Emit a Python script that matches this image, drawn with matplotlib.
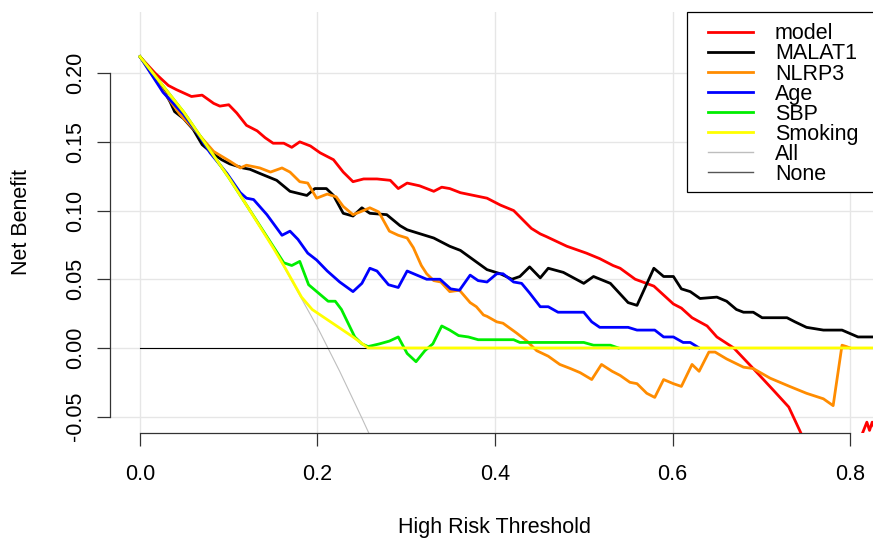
import matplotlib
matplotlib.use("Agg")
import matplotlib.pyplot as plt
from matplotlib.lines import Line2D
from matplotlib.patches import Rectangle

plt.rcParams['font.family'] = ['Liberation Sans', 'DejaVu Sans']

# ---------------- data ----------------
model_t = [0, 0.017, 0.032, 0.041, 0.058, 0.070, 0.083, 0.090, 0.100, 0.109, 0.120, 0.132, 0.141, 0.150,
           0.162, 0.171, 0.180, 0.192, 0.203, 0.218, 0.229, 0.240, 0.252, 0.267, 0.282, 0.291, 0.301,
           0.315, 0.331, 0.340, 0.349, 0.361, 0.376, 0.391, 0.406, 0.421, 0.441, 0.451, 0.458, 0.481,
           0.503, 0.518, 0.533, 0.541, 0.558, 0.579, 0.601, 0.610, 0.622, 0.639, 0.650, 0.669, 0.691,
           0.714, 0.731, 0.744, 0.760, 0.800, 0.819, 0.822, 0.825, 0.830]
model_v = [0.212, 0.200, 0.191, 0.188, 0.183, 0.184, 0.178, 0.176, 0.177, 0.171, 0.162, 0.158, 0.153, 0.149,
           0.149, 0.146, 0.150, 0.147, 0.142, 0.137, 0.128, 0.121, 0.123, 0.123, 0.122, 0.116, 0.120,
           0.118, 0.114, 0.117, 0.116, 0.113, 0.111, 0.109, 0.104, 0.100, 0.087, 0.083, 0.081, 0.074,
           0.069, 0.065, 0.060, 0.058, 0.050, 0.045, 0.032, 0.029, 0.022, 0.016, 0.008, 0.000, -0.015,
           -0.031, -0.043, -0.061, -0.085, -0.085, -0.054, -0.060, -0.054, -0.062]

malat1_t = [0, 0.020, 0.034, 0.039, 0.049, 0.060, 0.070, 0.079, 0.092, 0.101, 0.116, 0.124, 0.135, 0.154,
            0.169, 0.188, 0.197, 0.210, 0.218, 0.229, 0.240, 0.250, 0.259, 0.278, 0.293, 0.301, 0.331,
            0.349, 0.361, 0.376, 0.391, 0.406, 0.419, 0.428, 0.439, 0.451, 0.460, 0.477, 0.500, 0.511,
            0.530, 0.550, 0.560, 0.579, 0.590, 0.601, 0.610, 0.620, 0.631, 0.650, 0.661, 0.672, 0.680,
            0.691, 0.701, 0.729, 0.738, 0.751, 0.770, 0.791, 0.809, 0.850]
malat1_v = [0.212, 0.195, 0.179, 0.172, 0.167, 0.159, 0.148, 0.143, 0.137, 0.134, 0.131, 0.130, 0.127, 0.122,
            0.114, 0.111, 0.116, 0.116, 0.111, 0.098, 0.096, 0.102, 0.098, 0.097, 0.089, 0.086, 0.080,
            0.074, 0.071, 0.064, 0.057, 0.054, 0.050, 0.052, 0.059, 0.051, 0.058, 0.055, 0.047, 0.052,
            0.047, 0.033, 0.031, 0.058, 0.052, 0.052, 0.043, 0.041, 0.036, 0.037, 0.034, 0.028, 0.026,
            0.026, 0.022, 0.022, 0.019, 0.015, 0.013, 0.013, 0.008, 0.008]

nlrp3_t = [0, 0.026, 0.045, 0.064, 0.083, 0.101, 0.113, 0.120, 0.135, 0.147, 0.160, 0.169, 0.180, 0.189,
           0.199, 0.211, 0.221, 0.229, 0.240, 0.248, 0.259, 0.269, 0.281, 0.291, 0.301, 0.308, 0.317,
           0.323, 0.331, 0.339, 0.349, 0.360, 0.372, 0.379, 0.387, 0.391, 0.402, 0.409, 0.424, 0.436,
           0.447, 0.460, 0.473, 0.485, 0.496, 0.509, 0.520, 0.532, 0.541, 0.552, 0.560, 0.571, 0.580,
           0.590, 0.601, 0.610, 0.622, 0.630, 0.641, 0.648, 0.661, 0.680, 0.691, 0.710, 0.721, 0.732,
           0.751, 0.770, 0.781, 0.791, 0.796, 0.800]
nlrp3_v = [0.212, 0.187, 0.170, 0.157, 0.143, 0.136, 0.131, 0.133, 0.131, 0.128, 0.131, 0.128, 0.121, 0.120,
           0.109, 0.112, 0.110, 0.103, 0.097, 0.099, 0.102, 0.099, 0.085, 0.082, 0.080, 0.073, 0.060,
           0.054, 0.049, 0.048, 0.041, 0.042, 0.033, 0.030, 0.024, 0.023, 0.019, 0.018, 0.011, 0.005,
           -0.002, -0.006, -0.012, -0.015, -0.018, -0.023, -0.012, -0.017, -0.020, -0.025, -0.026, -0.033, -0.036,
           -0.023, -0.026, -0.028, -0.012, -0.017, -0.003, -0.003, -0.008, -0.014, -0.015, -0.022, -0.025, -0.028,
           -0.033, -0.037, -0.042, 0.002, 0.001, 0.000]

age_t = [0, 0.026, 0.049, 0.064, 0.079, 0.098, 0.113, 0.120, 0.128, 0.143, 0.160, 0.169, 0.178, 0.189,
         0.199, 0.211, 0.225, 0.240, 0.250, 0.259, 0.267, 0.280, 0.291, 0.301, 0.312, 0.323, 0.338,
         0.350, 0.360, 0.372, 0.381, 0.391, 0.402, 0.409, 0.421, 0.430, 0.439, 0.451, 0.460, 0.471,
         0.500, 0.509, 0.518, 0.550, 0.560, 0.580, 0.590, 0.601, 0.612, 0.620, 0.630]
age_v = [0.212, 0.186, 0.170, 0.157, 0.142, 0.127, 0.113, 0.109, 0.108, 0.097, 0.082, 0.085, 0.079, 0.069,
         0.064, 0.056, 0.048, 0.041, 0.047, 0.058, 0.056, 0.046, 0.044, 0.056, 0.053, 0.050, 0.050,
         0.043, 0.042, 0.053, 0.049, 0.048, 0.054, 0.054, 0.048, 0.047, 0.040, 0.030, 0.030, 0.026,
         0.026, 0.019, 0.015, 0.015, 0.013, 0.013, 0.008, 0.008, 0.004, 0.004, 0.000]

sbp_t = [0, 0.050, 0.100, 0.130, 0.162, 0.171, 0.180, 0.190, 0.201, 0.212, 0.220, 0.227, 0.242, 0.250,
         0.257, 0.270, 0.281, 0.291, 0.301, 0.311, 0.321, 0.330, 0.340, 0.349, 0.359, 0.370, 0.381,
         0.421, 0.428, 0.500, 0.511, 0.530, 0.539]
sbp_v = [0.212, 0.171, 0.124, 0.094, 0.062, 0.060, 0.063, 0.046, 0.040, 0.034, 0.034, 0.028, 0.008, 0.003,
         0.001, 0.003, 0.005, 0.008, -0.004, -0.010, -0.002, 0.003, 0.016, 0.013, 0.009, 0.008, 0.006,
         0.006, 0.004, 0.004, 0.002, 0.002, 0.000]

smoking_t = [0, 0.050, 0.100, 0.118, 0.150, 0.162, 0.182, 0.194, 0.240, 0.257, 0.850]
smoking_v = [0.212, 0.171, 0.124, 0.106, 0.073, 0.060, 0.037, 0.028, 0.008, 0.000, 0.000]

all_t = [0, 0.050, 0.100, 0.150, 0.200, 0.225, 0.250, 0.260]
all_v = [0.212, 0.171, 0.124, 0.073, 0.015, -0.017, -0.051, -0.065]

none_t = [0, 0.850]
none_v = [0, 0]

labels = ["model", "MALAT1", "NLRP3", "Age", "SBP", "Smoking", "All", "None"]
colors = ["#FF0000", "#000000", "#FF8C00", "#0000FF", "#00EE00", "#FFFF00", "#BEBEBE", "#000000"]

x_ticks = [0.0, 0.2, 0.4, 0.6, 0.8]
x_tick_labels = ["0.0", "0.2", "0.4", "0.6", "0.8"]
y_ticks = [-0.05, 0.00, 0.05, 0.10, 0.15, 0.20]
y_tick_labels = ["-0.05", "0.00", "0.05", "0.10", "0.15", "0.20"]

# ---------------- figure ----------------
W, H = 873, 538
fig = plt.figure(figsize=(W / 100, H / 100), dpi=100)
L, R, T, B = 110, 880, 12, 433
ax = fig.add_axes([L / W, 1 - B / H, (R - L) / W, (B - T) / H])
ax.set_xlim(-0.0338, 0.8338)
ax.set_ylim(-0.0619, 0.2445)
ax.patch.set_alpha(0)

FS = 15.5
grid_c = "#E6E6E6"
for xv in x_ticks:
    ax.axvline(xv, color=grid_c, lw=1.0, zorder=0)
for yv in y_ticks:
    ax.axhline(yv, color=grid_c, lw=1.0, zorder=0)

series = [(model_t, model_v), (malat1_t, malat1_v), (nlrp3_t, nlrp3_v), (age_t, age_v),
          (sbp_t, sbp_v), (smoking_t, smoking_v), (all_t, all_v), (none_t, none_v)]
widths = [2, 2, 2, 2, 2, 2, 0.8, 0.8]
zorders = [3, 3, 3, 3, 3, 3, 2, 2]
for (t, v), c, lw, z in zip(series, colors, widths, zorders):
    ax.plot(t, v, color=c, lw=lw, zorder=z, solid_joinstyle='round')

for s in ["top", "right"]:
    ax.spines[s].set_visible(False)
ax.spines["left"].set_bounds(-0.05, 0.20)
ax.spines["bottom"].set_bounds(0.0, 0.8)
for s in ["left", "bottom"]:
    ax.spines[s].set_color("#333333")
    ax.spines[s].set_linewidth(0.9)

ax.set_xticks(x_ticks, x_tick_labels)
ax.set_yticks(y_ticks, y_tick_labels, rotation=90, va="center")
ax.tick_params(axis="both", length=9.4, width=0.9, color="#333333", labelsize=FS)
ax.tick_params(axis="x", pad=13)
ax.tick_params(axis="y", pad=8)

fig.text(495 / W, 1 - 533.5 / H, "High Risk Threshold", ha="center", va="baseline", fontsize=FS)
fig.text(22 / W, 1 - 222 / H, "Net Benefit", ha="center", va="center", rotation=90, fontsize=FS)

# legend (R-style, top-right of plot region)
lx0, ly0, lx1, ly1 = 687, 12, 880, 192
fig.patches.append(Rectangle((lx0 / W, 1 - ly1 / H), (lx1 - lx0) / W, (ly1 - ly0) / H,
                             transform=fig.transFigure, facecolor="white", edgecolor="black",
                             lw=0.9, zorder=5))
for i, (lab, c) in enumerate(zip(labels, colors)):
    yy = 31.7 + 20.05 * i
    lw = widths[i] if i < 6 else 1.0
    cc = c if i < 7 else "#555555"
    fig.lines.append(Line2D([708 / W, 753 / W], [1 - yy / H, 1 - yy / H], transform=fig.transFigure,
                            color=cc, lw=lw, zorder=6))
    fig.text(775 / W, 1 - (yy + 7.7) / H, lab, ha="left", va="baseline", fontsize=FS, zorder=6)

fig.savefig("out.png", dpi=100)
